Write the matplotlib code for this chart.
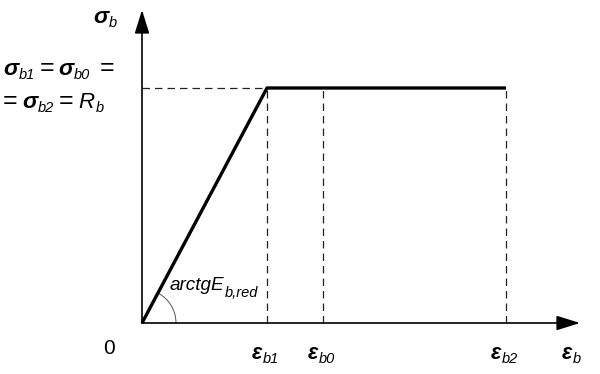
import matplotlib
matplotlib.use("Agg")
import matplotlib.pyplot as plt
from matplotlib.patches import Arc
import numpy as np

plt.rcParams["font.family"] = ["Liberation Sans", "DejaVu Sans"]

# schematic strain / stress values (arbitrary units)
eps_points = [0.0, 1.25, 3.64]
sigma_points = [0.0, 2.35, 2.35]
eps_marks = [1.25, 1.81, 3.64]
eps_subs = ["b1", "b0", "b2"]
R_b = 2.35

fig = plt.figure(figsize=(6.0, 3.74), dpi=100)
ax = fig.add_axes([0, 0, 1, 1])
ax.set_xlim(-1.42, 4.58)
ax.set_ylim(-0.51, 3.23)
ax.axis("off")

STYLES = {
    "g": dict(fontsize=16.5, fontstyle="italic", fontweight="bold"), # greek base
    "e": dict(fontsize=15.5, fontstyle="italic", fontweight="bold"), # epsilon base
    "i": dict(fontsize=16, fontstyle="italic"),                      # latin base
    "n": dict(fontsize=18),                                          # '=' signs
    "s": dict(fontsize=10.5, fontstyle="italic"),                    # subscript
}
GAPS = {"s": 0.4, "n": 3.5, "g": 3.0, "e": 1.5, "i": 4.0}


def formula(x, y, pieces, sub_dy=-1.5, base_scale=1.0):
    """Write base/subscript pieces one after another, starting at data (x, y)."""
    def style(role):
        st = dict(STYLES[role])
        if role != "s":
            st["fontsize"] *= base_scale
        return st

    text, role = pieces[0][:2]
    first = ax.text(x, y, text, ha="left", va="bottom", **style(role))
    base = prev = first
    for piece in pieces[1:]:
        text, role = piece[:2]
        dx = piece[2] if len(piece) > 2 else GAPS[role]
        dy = sub_dy if role == "s" else 0
        art = ax.annotate(text, xy=(1, 0), xycoords=(prev, base), xytext=(dx, dy),
                          textcoords="offset points", ha="left", va="bottom", **style(role))
        if role != "s":
            base = art
        prev = art
    return first


arrow = dict(arrowstyle="-|>,head_length=0.8,head_width=0.25", mutation_scale=18,
             lw=1.2, color="black", shrinkA=0, shrinkB=0)
ax.annotate("", xy=(4.38, 0), xytext=(0, 0), arrowprops=arrow)
ax.annotate("", xy=(0, 3.13), xytext=(0, 0), arrowprops=arrow)

# dashed guides
dash = dict(ls=(0, (6, 4)), color="#222222", lw=0.9)
ax.plot([0, eps_marks[0]], [R_b, R_b], **dash)
for e in eps_marks:
    ax.plot([e, e], [0, R_b], **dash)

ax.plot(eps_points, sigma_points, color="black", lw=2.4, solid_capstyle="butt")

theta = np.degrees(np.arctan2(sigma_points[1], eps_points[1]))
ax.add_patch(Arc((0, 0), 0.68, 0.68, theta1=0, theta2=theta, color="#555555", lw=0.7))

ax.text(-0.33, -0.25, "0", fontsize=15, ha="center", va="center")
for e, s in zip(eps_marks, eps_subs):
    formula(e - 0.15, -0.41, [("ε", "e"), (s, "s")])
formula(4.20, -0.41, [("ε", "e"), ("b", "s")])

formula(-0.49, 2.95, [("σ", "g"), ("b", "s")])
formula(-1.39, 2.43, [("σ", "g"), ("b1", "s"), ("=", "n"), ("σ", "g"),
                      ("b0", "s"), ("=", "n", 7.0)])
formula(-1.39, 2.10, [("=", "n"), ("σ", "g"), ("b2", "s"), ("=", "n"), ("R", "i"), ("b", "s")])

formula(0.28, 0.29, [("arctgE", "i"), ("b,red", "s")], sub_dy=-4.3, base_scale=0.85)

fig.savefig("out.png", dpi=100)
